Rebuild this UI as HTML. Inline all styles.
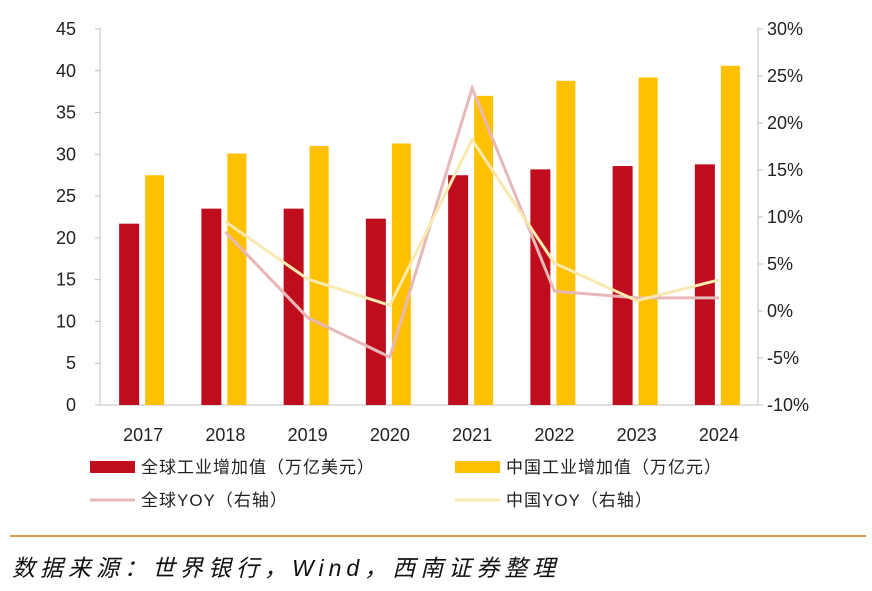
<!DOCTYPE html>
<html><head><meta charset="utf-8"><style>
body{margin:0;background:#fff;width:872px;height:586px;overflow:hidden;font-family:"Liberation Sans","Noto Sans CJK SC",sans-serif;}
svg text{font-family:"Liberation Sans","Noto Sans CJK SC",sans-serif;}
</style></head><body>
<svg id="chart" width="872" height="586" xmlns="http://www.w3.org/2000/svg"></svg>
<script>
const categories=["2017","2018","2019","2020","2021","2022","2023","2024"];
const globalValue=[21.7,23.5,23.5,22.3,27.5,28.2,28.6,28.8];
const chinaValue=[27.5,30.1,31.0,31.3,37.0,38.8,39.2,40.6];
const globalYoy=[null,8.4,-0.7,-4.9,23.7,2.1,1.4,1.4];
const chinaYoy=[null,9.5,3.4,0.6,18.2,5.1,1.1,3.3];
const leftTicks=[0,5,10,15,20,25,30,35,40,45];
const rightTicks=[-10,-5,0,5,10,15,20,25,30];

const NS="http://www.w3.org/2000/svg";
const svg=document.getElementById('chart');
const X0=100,X1=758,YT=29,YB=405;
const step=(X1-X0)/categories.length;
const xc=i=>X0+step*(i+0.5);
const yL=v=>YB-(v-0)/45*(YB-YT);
const yR=v=>YB-(v+10)/40*(YB-YT);
function mk(tag,attrs,parent){const e=document.createElementNS(NS,tag);for(const k in attrs)e.setAttribute(k,attrs[k]);(parent||svg).appendChild(e);return e;}

let e;
e=mk('line',{x1:X0,y1:YT-2,x2:X0,y2:YB,stroke:'#bfbfbf'});


e=mk('line',{x1:X1,y1:YT-2,x2:X1,y2:YB,stroke:'#bfbfbf'});


e=mk('line',{x1:X0,y1:YB,x2:X1,y2:YB,stroke:'#bfbfbf'});



leftTicks.forEach(t=>{
  e=mk('text',{x:76,y:yL(t)+6,'text-anchor':'end','font-size':18,fill:'#222'});e.textContent=t;
  
  
  mk('line',{x1:X0-5,y1:yL(t),x2:X0,y2:yL(t),stroke:'#bfbfbf'});
});
rightTicks.forEach(t=>{
  e=mk('text',{x:767,y:yR(t)+6,'font-size':18,fill:'#222'});e.textContent=t+'%';
  
  
  mk('line',{x1:X1,y1:yR(t),x2:X1+5,y2:yR(t),stroke:'#bfbfbf'});
});
categories.forEach((c,i)=>{
  e=mk('text',{x:xc(i)+2,y:441,'text-anchor':'middle','font-size':18,fill:'#222'});e.textContent=c;
  
  
  e=mk('rect',{x:xc(i)-22,y:yL(globalValue[i]),width:20,height:YB-yL(globalValue[i]),fill:'#c00d1e'});
  
  
  e=mk('rect',{x:xc(i)+4,y:yL(chinaValue[i]),width:19,height:YB-yL(chinaValue[i]),fill:'#ffc000'});
  
  
});
function line(arr,color,name){
  const pts=[];arr.forEach((v,i)=>{if(v!==null)pts.push(xc(i)+2+','+yR(v));});
  const p=mk('polyline',{points:pts.join(' '),fill:'none',stroke:color,'stroke-width':3});
  
  
}
line(globalYoy,'#e6b9b8','line-global-yoy');
line(chinaYoy,'#f8e9b0','line-china-yoy');

const leg=[[90,467,'#c00d1e','rect','全球工业增加值（万亿美元）','legend-global-value'],
[455,467,'#ffc000','rect','中国工业增加值（万亿元）','legend-china-value'],
[90,500,'#e6b9b8','line','全球YOY（右轴）','legend-global-yoy'],
[455,500,'#f8e9b0','line','中国YOY（右轴）','legend-china-yoy']];
leg.forEach(l=>{
  const g=mk('g',{});
  
  
  if(l[3]==='rect')mk('rect',{x:l[0],y:l[1]-6,width:45,height:12,fill:l[2]},g);
  else mk('line',{x1:l[0],y1:l[1],x2:l[0]+45,y2:l[1],stroke:l[2],'stroke-width':3},g);
  const t=mk('text',{x:l[0]+51,y:l[1]+6,'font-size':17,'letter-spacing':1,fill:'#222'},g);t.textContent=l[4];
});
e=mk('line',{x1:10,y1:536,x2:866,y2:536,stroke:'#d9a24a','stroke-width':2});


e=mk('text',{x:12,y:576,'font-size':23,'font-style':'italic','letter-spacing':5,fill:'#111'});
e.textContent='数据来源：世界银行，Wind，西南证券整理';


</script>
</body></html>
